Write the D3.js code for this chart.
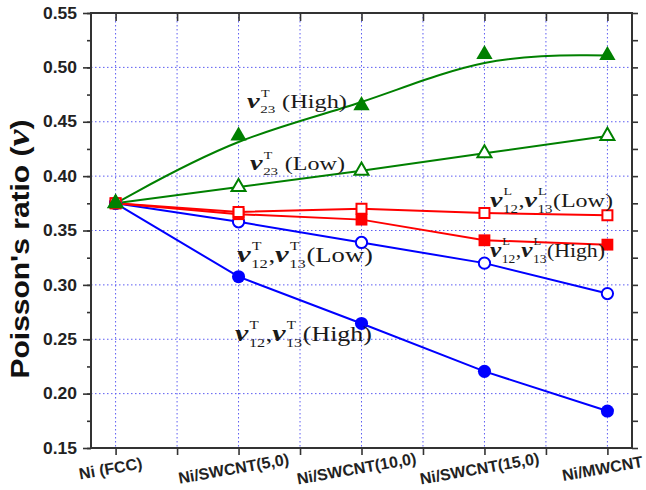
<!DOCTYPE html>
<html>
<head>
<meta charset="utf-8">
<script src="https://cdn.jsdelivr.net/npm/d3@7"></script>
<style>
  body { margin: 0; background: #fff; }
</style>
</head>
<body>
<div id="chart"></div>
<script>
// data
var categories = ["Ni (FCC)", "Ni/SWCNT(5,0)", "Ni/SWCNT(10,0)", "Ni/SWCNT(15,0)", "Ni/MWCNT"];
var v23High  = [0.375, 0.437, 0.465, 0.512, 0.511];
var v23Low   = [0.375, 0.390, 0.405, 0.421, 0.437];
var vL12Low  = [0.375, 0.367, 0.370, 0.366, 0.364];
var vL12High = [0.375, 0.365, 0.360, 0.341, 0.337];
var vT12Low  = [0.375, 0.358, 0.339, 0.320, 0.292];
var vT12High = [0.375, 0.3075, 0.2645, 0.2205, 0.184];
var yTicks = [0.15, 0.20, 0.25, 0.30, 0.35, 0.40, 0.45, 0.50, 0.55];
var yMinor = d3.range(0.15, 0.5501, 0.025);
var xHalf = d3.range(0, 4.01, 0.5);

var W = 646, H = 490;
var pLeft = 91, pRight = 632, pTop = 13, pBottom = 448;

var svg = d3.select("#chart")
  .append("svg")
    .attr("width", W)
    .attr("height", H);

var x = d3.scaleLinear().domain([-0.2, 4.2]).range([pLeft, pRight]);
var y = d3.scaleLinear().domain([0.15, 0.55]).range([pBottom, pTop]);

// dotted grid
var grid = svg.append("g")
  .attr("stroke", "#5c5cf2")
  .attr("stroke-width", 1)
  .attr("stroke-dasharray", "1.5,2.5");
grid.selectAll("line.v")
  .data(xHalf)
  .join("line")
    .attr("class", "v")
    .attr("x1", d => x(d)).attr("x2", d => x(d))
    .attr("y1", pTop).attr("y2", pBottom);
grid.selectAll("line.h")
  .data(yTicks.slice(1, -1))
  .join("line")
    .attr("class", "h")
    .attr("x1", pLeft).attr("x2", pRight)
    .attr("y1", d => y(d)).attr("y2", d => y(d));

// axes
var axisColor = "#333";
function styleAxis(g) {
  g.select(".domain").remove();
  g.selectAll("line").attr("stroke", axisColor).attr("stroke-width", 1.6);
}

svg.append("g")
  .attr("transform", "translate(" + pLeft + ",0)")
  .call(d3.axisLeft(y).tickValues(yMinor).tickSize(4).tickFormat(""))
  .call(styleAxis);

var yAx = svg.append("g")
  .attr("transform", "translate(" + pLeft + ",0)")
  .call(d3.axisLeft(y).tickValues(yTicks).tickSize(8).tickPadding(6).tickFormat(d3.format(".2f")))
  .call(styleAxis);
yAx.selectAll("text")
  .attr("font-family", "Liberation Sans, Arial, sans-serif")
  .attr("font-weight", "bold")
  .attr("font-size", 16)
  .attr("fill", "#222")
  .attr("textLength", 34)
  .attr("lengthAdjust", "spacingAndGlyphs");

svg.append("g")
  .attr("transform", "translate(" + pRight + ",0)")
  .call(d3.axisLeft(y).tickValues(yMinor).tickSize(-6).tickFormat(""))
  .call(styleAxis);

svg.append("g")
  .attr("transform", "translate(0," + pBottom + ")")
  .call(d3.axisBottom(x).tickValues(xHalf).tickSize(7).tickFormat(""))
  .call(styleAxis);

svg.append("g")
  .attr("transform", "translate(0," + pTop + ")")
  .call(d3.axisTop(x).tickValues(xHalf).tickSize(-8).tickFormat(""))
  .call(styleAxis);

svg.append("rect")
  .attr("x", pLeft).attr("y", pTop)
  .attr("width", pRight - pLeft).attr("height", pBottom - pTop)
  .attr("fill", "none")
  .attr("stroke", axisColor)
  .attr("stroke-width", 2);

// x category labels, tilted
svg.append("g")
  .attr("font-family", "Liberation Sans, Arial, sans-serif")
  .attr("font-weight", "bold")
  .attr("font-size", 16)
  .attr("fill", "#222")
  .selectAll("text")
  .data(categories)
  .join("text")
    .attr("text-anchor", "middle")
    .attr("transform", (d, i) => "translate(" + (x(i) - 4) + ",474) rotate(-10)")
    .text(d => d);

// y title
var yt = svg.append("text")
  .attr("transform", "translate(29,249) rotate(-90)")
  .attr("text-anchor", "middle")
  .attr("font-family", "Liberation Sans, Arial, sans-serif")
  .attr("font-weight", "bold")
  .attr("font-size", 25)
  .attr("fill", "#111")
  .attr("textLength", 259)
  .attr("lengthAdjust", "spacingAndGlyphs");
yt.append("tspan").text("Poisson's ratio (");
yt.append("tspan")
  .attr("font-family", "Liberation Serif, Times New Roman, serif")
  .attr("font-style", "italic")
  .attr("font-size", 32)
  .text("ν");
yt.append("tspan").text(")");

// series
var series = [
  {vals: vT12High, color: "#0000ff", shape: "circle", filled: true, curve: d3.curveLinear},
  {vals: vT12Low,  color: "#0000ff", shape: "circle", filled: false, curve: d3.curveLinear},
  {vals: vL12High, color: "#ff0000", shape: "square", filled: true, curve: d3.curveLinear},
  {vals: vL12Low,  color: "#ff0000", shape: "square", filled: false, curve: d3.curveLinear},
  {vals: v23Low,   color: "#008000", shape: "triangle", filled: false, curve: d3.curveLinear},
  {vals: v23High,  color: "#008000", shape: "triangle", filled: true, curve: d3.curveBasis}
];

series.forEach(function(s) {
  var line = d3.line()
    .x((d, i) => x(i))
    .y(d => y(d))
    .curve(s.curve);
  svg.append("path")
    .datum(s.vals)
    .attr("d", line)
    .attr("fill", "none")
    .attr("stroke", s.color)
    .attr("stroke-width", 2);
});

series.forEach(function(s) {
  var sym, size;
  if (s.shape === "circle") { sym = d3.symbolCircle; size = s.filled ? 135 : 100; }
  else if (s.shape === "square") { sym = d3.symbolSquare; size = s.filled ? 140 : 100; }
  else { sym = d3.symbolTriangle; size = s.filled ? 115 : 85; }
  svg.append("g")
    .selectAll("path")
    .data(s.vals)
    .join("path")
      .attr("transform", (d, i) => "translate(" + x(i) + "," + y(d) + ")")
      .attr("d", d3.symbol().type(sym).size(size))
      .attr("fill", s.filled ? s.color : "#fff")
      .attr("stroke", s.color)
      .attr("stroke-width", s.filled ? 0 : 2);
});

// annotations
function mathLabel(x0, yb, parts, width, fs) {
  var g = svg.append("g")
    .attr("font-family", "Liberation Serif, Times New Roman, serif")
    .attr("fill", "#1a1a1a");
  var cx = 0;
  parts.forEach(function(p) {
    if (p.nu) {
      var t = g.append("text").attr("x", cx).attr("y", 0)
        .attr("font-size", fs + 3).attr("font-style", "italic").attr("font-weight", "bold").text("ν");
      var w = t.node().getComputedTextLength();
      var sp = g.append("text").attr("x", cx + w + 1).attr("y", -fs * 0.62)
        .attr("font-size", fs * 0.58).text(p.sup);
      var sb = g.append("text").attr("x", cx + w + 0.5).attr("y", fs * 0.3)
        .attr("font-size", fs * 0.62).text(p.sub);
      cx += w + 1 + Math.max(sp.node().getComputedTextLength(), sb.node().getComputedTextLength());
    } else {
      var t2 = g.append("text").attr("x", cx).attr("y", 0)
        .attr("font-size", fs).text(p.text);
      cx += t2.node().getComputedTextLength();
    }
  });
  g.attr("transform", "translate(" + x0 + "," + yb + ") scale(" + (width / cx) + ",1)");
}

mathLabel(247, 108, [{nu: true, sub: "23", sup: "T"}, {text: "\u00a0(High)"}], 100, 18);
mathLabel(250, 170, [{nu: true, sub: "23", sup: "T"}, {text: "\u00a0(Low)"}], 95, 18);
mathLabel(490, 207, [{nu: true, sub: "12", sup: "L"}, {text: ","}, {nu: true, sub: "13", sup: "L"}, {text: "(Low)"}], 123, 19);
mathLabel(490, 257, [{nu: true, sub: "12", sup: "L"}, {text: ","}, {nu: true, sub: "13", sup: "L"}, {text: "(High)"}], 115, 19);
mathLabel(237, 262, [{nu: true, sub: "12", sup: "T"}, {text: ","}, {nu: true, sub: "13", sup: "T"}, {text: "(Low)"}], 136, 20);
mathLabel(235, 341, [{nu: true, sub: "12", sup: "T"}, {text: ","}, {nu: true, sub: "13", sup: "T"}, {text: "(High)"}], 137, 20);
</script>
</body>
</html>
